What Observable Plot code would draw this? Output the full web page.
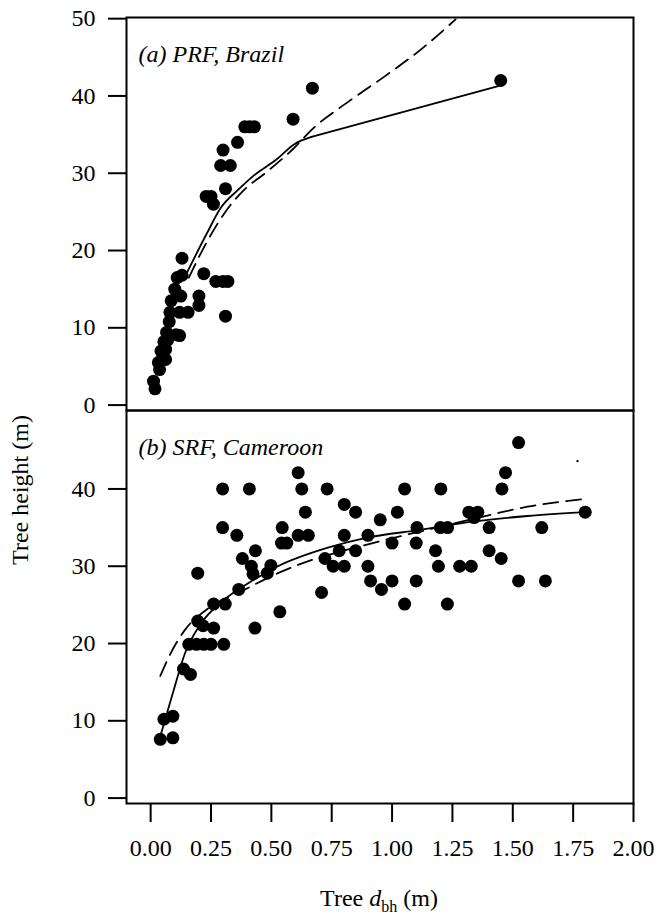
<!DOCTYPE html>
<html>
<head>
<meta charset="utf-8">
<script src="https://cdn.jsdelivr.net/npm/d3@7"></script>
<script src="https://cdn.jsdelivr.net/npm/@observablehq/plot@0.6"></script>
<style>
  html, body { margin: 0; padding: 0; background: #fff; }
</style>
</head>
<body>
<div id="chart"></div>
<script>
// ---- data ----
const panels = ["a", "b"];
const panelLabels = ["(a) PRF, Brazil", "(b) SRF, Cameroon"];
const xTicks = [0, 0.25, 0.5, 0.75, 1, 1.25, 1.5, 1.75, 2];
const yTicksTop = [0, 10, 20, 30, 40, 50];
const yTicksBottom = [0, 10, 20, 30, 40];

// (a) PRF, Brazil: [dbh (m), height (m)]
const prfPoints = [
  [1.45,42],[0.67,41],[0.59,37],[0.39,36],[0.41,36],[0.43,36],[0.36,34],[0.30,33],
  [0.29,31],[0.33,31],[0.31,28],[0.23,27],[0.25,27],[0.26,26],[0.13,19],[0.22,17],
  [0.27,16],[0.30,16],[0.32,16],[0.31,11.5],[0.13,16.8],[0.11,16.5],[0.10,15],
  [0.125,14.1],[0.085,13.5],[0.20,14.1],[0.20,12.9],[0.08,12],[0.12,12],[0.155,12],
  [0.077,10.8],[0.066,9.4],[0.105,9.1],[0.12,9.0],[0.055,8.2],[0.07,8.4],[0.043,7],
  [0.062,7.2],[0.05,6.5],[0.032,5.5],[0.062,5.9],[0.037,4.6],[0.012,3.1],[0.018,2.1]
];
// solid: smooth rise then a straight segment to the largest tree
const prfSolidCurve = [
  [0.15,17.1],[0.231,22.1],[0.29,25.5],[0.364,27.9],[0.423,29.6],[0.526,31.9],
  [0.592,33.7],[0.666,34.7]
];
const prfSolidTail = [[0.666,34.7],[1.455,41.4]];
const prfDashed = [
  [0.158,16.5],[0.231,21],[0.305,24.8],[0.379,27.6],[0.482,30.2],[0.592,33.2],
  [0.673,35.8],[0.821,39.3],[0.968,42.5],[1.115,45.9],[1.263,49.9]
];

// (b) SRF, Cameroon
const srfPoints = [
  [1.524,46],[1.47,42.1],[1.455,40],[0.611,42.1],[0.626,40],[0.298,40],[0.409,40],
  [0.731,40],[1.052,40],[1.202,40],[0.641,37],[0.802,38],[0.849,37],[1.022,37],
  [0.951,36],[1.318,37],[1.355,37],[1.34,36.3],[1.80,37],[0.298,35],[0.545,35],
  [1.103,35],[1.20,35],[1.23,35],[1.402,35],[1.62,35],[0.357,34],[0.611,34],
  [0.653,34],[0.802,34],[0.90,34],[0.542,33],[0.564,33],[1.0,33],[1.10,33],
  [0.434,32],[0.781,32],[0.849,32],[1.18,32],[1.402,32],[0.38,31],[0.722,31],
  [1.452,31],[0.417,30],[0.498,30.1],[0.756,30],[0.802,30],[0.90,30],[1.192,30],
  [1.28,30],[1.328,30],[0.424,29],[0.483,29.1],[0.195,29.1],[0.365,27],[0.911,28.1],
  [1.0,28.1],[1.10,28.1],[1.524,28.1],[1.635,28.1],[0.956,27],[0.708,26.6],
  [1.052,25.1],[1.229,25.1],[0.261,25.1],[0.309,25.1],[0.535,24.1],[0.432,22],
  [0.195,22.9],[0.217,22.3],[0.261,22],[0.158,19.9],[0.19,19.9],[0.22,19.9],
  [0.25,19.9],[0.303,19.9],[0.136,16.7],[0.165,16],[0.055,10.2],[0.092,10.6],
  [0.04,7.6],[0.092,7.8]
];
const srfSpeck = [[1.768,43.6]];
const srfSolid = [
  [0.04,8.0],[0.092,13.6],[0.143,18.8],[0.202,22.3],[0.306,25.7],[0.409,27.9],
  [0.527,30.0],[0.734,32.4],[0.897,33.7],[1.118,34.7],[1.34,35.8],[1.561,36.5],[1.80,37.0]
];
const srfDashed = [
  [0.04,15.8],[0.084,18.8],[0.143,21.8],[0.232,24.4],[0.379,26.8],[0.527,29.1],
  [0.675,30.9],[0.823,32.2],[0.97,33.4],[1.118,34.5],[1.266,35.6],[1.414,36.7],
  [1.561,37.7],[1.798,38.7]
];

// ---- build ----
const tag = (arr, p) => arr.map(([x, y]) => ({x, y, panel: p}));
const points = [...tag(prfPoints, "a"), ...tag(srfPoints, "b")];
const labels = panels.map((p, i) => ({panel: p, text: panelLabels[i]}));

const W = 658, H = 916;
const font = "Liberation Serif, Times New Roman, serif";
const lineOpts = (p, extra = {}) => ({x: d => d[0], y: d => d[1], fy: () => p,
  stroke: "black", strokeWidth: 1.8, curve: "monotone-x", ...extra});

const svg = Plot.plot({
  width: W,
  height: H,
  marginLeft: 126,
  marginRight: 25,
  marginTop: 17,
  marginBottom: 113,
  style: {fontFamily: font, fontSize: "24px", background: "white", color: "black", overflow: "visible"},
  x: {domain: [-0.1, 2.0], label: null},
  y: {domain: [-0.7, 50.15], label: null},
  fy: {domain: panels, padding: 0, axis: null, label: null},
  marks: [
    Plot.frame({stroke: "black", strokeWidth: 2}),
    Plot.axisY(yTicksTop, {facetAnchor: "top", anchor: "left", tickSize: 18, tickPadding: 13,
      strokeWidth: 2, label: null, fontSize: 24}),
    Plot.axisY(yTicksBottom, {facetAnchor: "bottom", anchor: "left", tickSize: 18, tickPadding: 13,
      strokeWidth: 2, label: null, fontSize: 24}),
    Plot.axisX(xTicks, {anchor: "bottom", tickSize: 19, tickPadding: 16, strokeWidth: 2,
      tickFormat: d3.format(".2f"), label: null, fontSize: 24}),
    Plot.line(prfSolidCurve, lineOpts("a")),
    Plot.line(prfSolidTail, lineOpts("a", {curve: "linear"})),
    Plot.line(prfDashed, lineOpts("a", {strokeDasharray: "15,8"})),
    Plot.line(srfSolid, lineOpts("b")),
    Plot.line(srfDashed, lineOpts("b", {strokeDasharray: "15,8"})),
    Plot.dot(points, {x: "x", y: "y", fy: "panel", r: 6.5, fill: "black", stroke: null}),
    Plot.dot(srfSpeck, {x: d => d[0], y: d => d[1], fy: () => "b", r: 1.2, fill: "black", stroke: null}),
    Plot.text(labels, {fy: "panel", text: "text", frameAnchor: "top-left", dx: 12, dy: 27,
      textAnchor: "start", fontStyle: "italic", fontSize: 24, fill: "black"})
  ]
});

// axis titles
const s = d3.select(svg);
s.append("text")
  .attr("transform", "translate(28,490) rotate(-90)")
  .attr("text-anchor", "middle")
  .style("font-family", font).style("font-size", "24px").attr("fill", "black")
  .text("Tree height (m)");
const xt = s.append("text")
  .attr("x", 379).attr("y", 906)
  .attr("text-anchor", "middle")
  .style("font-family", font).style("font-size", "24px").attr("fill", "black");
xt.append("tspan").text("Tree ");
xt.append("tspan").style("font-style", "italic").text("d");
xt.append("tspan").attr("dy", 6).style("font-size", "16px").text("bh");
xt.append("tspan").attr("dy", -6).text(" (m)");

document.getElementById("chart").appendChild(svg);
</script>
</body>
</html>
